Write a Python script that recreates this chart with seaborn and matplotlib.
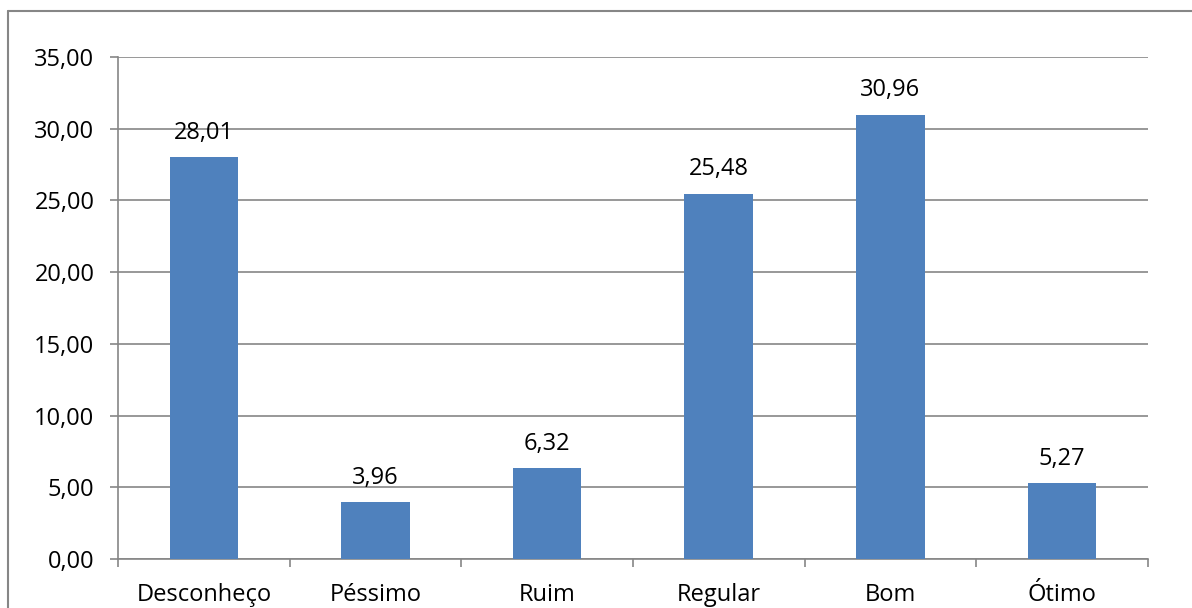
import matplotlib
matplotlib.use("Agg")
import matplotlib.pyplot as plt
import seaborn as sns
import pandas as pd
from matplotlib.lines import Line2D
from matplotlib.ticker import FixedLocator, FuncFormatter

# data
categorias = ["Desconheço", "Péssimo", "Ruim", "Regular", "Bom", "Ótimo"]
valores = [28.01, 3.96, 6.32, 25.48, 30.96, 5.27]
y_ticks = [0, 5, 10, 15, 20, 25, 30, 35]

df = pd.DataFrame({"categoria": categorias, "valor": valores})

sns.set_style("white")
plt.rcParams["font.family"] = ["Open Sans", "DejaVu Sans"]
plt.rcParams["text.color"] = "black"

grid_cor = "#868686"
fig = plt.figure(figsize=(11.92, 6.08), dpi=100)
ax = fig.add_axes([118 / 1192, 1 - 559 / 608, (1148 - 118) / 1192, (559 - 57) / 608])

sns.barplot(data=df, x="categoria", y="valor", color="#4F81BD", width=0.4,
            saturation=1, linewidth=0, ax=ax, zorder=3)

ax.set_xlim(-0.5, len(categorias) - 0.5)
ax.set_ylim(0, 35)
ax.set_yticks(y_ticks)
ax.yaxis.set_major_formatter(FuncFormatter(lambda v, p: f"{v:.2f}".replace(".", ",")))
ax.yaxis.grid(True, color=grid_cor, linewidth=1.2, zorder=0)
ax.set_axisbelow(True)

# ticks between categories on the x axis
ax.xaxis.set_major_locator(FixedLocator([i - 0.5 for i in range(len(categorias) + 1)]))
ax.xaxis.set_minor_locator(FixedLocator(list(range(len(categorias)))))
ax.xaxis.set_major_formatter(FuncFormatter(lambda v, p: ""))
ax.set_xticklabels(categorias, minor=True)
ax.tick_params(axis="x", which="major", direction="out", length=6, width=1.2, color=grid_cor, bottom=True)
ax.tick_params(axis="x", which="minor", length=0, pad=17, labelsize=17, labelcolor="black")
ax.tick_params(axis="y", direction="out", length=6, width=1.2, color=grid_cor, left=True,
               labelsize=17, pad=11, labelcolor="black")

for s in ["top", "right"]:
    ax.spines[s].set_visible(False)
for s in ["left", "bottom"]:
    ax.spines[s].set_color(grid_cor)
    ax.spines[s].set_linewidth(1.2)

ax.set_xlabel("")
ax.set_ylabel("")

for i, v in enumerate(valores):
    ax.annotate(f"{v:.2f}".replace(".", ","), (i, v), xytext=(0, 9),
                textcoords="offset points", ha="center", va="bottom", fontsize=17, color="black")

# outer chart border (only top and left visible in the crop)
x0, y0 = 8 / 1192, 1 - 11 / 608
fig.add_artist(Line2D([x0, 1.01], [y0, y0], transform=fig.transFigure, color=grid_cor, lw=1.5))
fig.add_artist(Line2D([x0, x0], [y0, -0.01], transform=fig.transFigure, color=grid_cor, lw=1.5))

fig.savefig("out.png", dpi=100)
